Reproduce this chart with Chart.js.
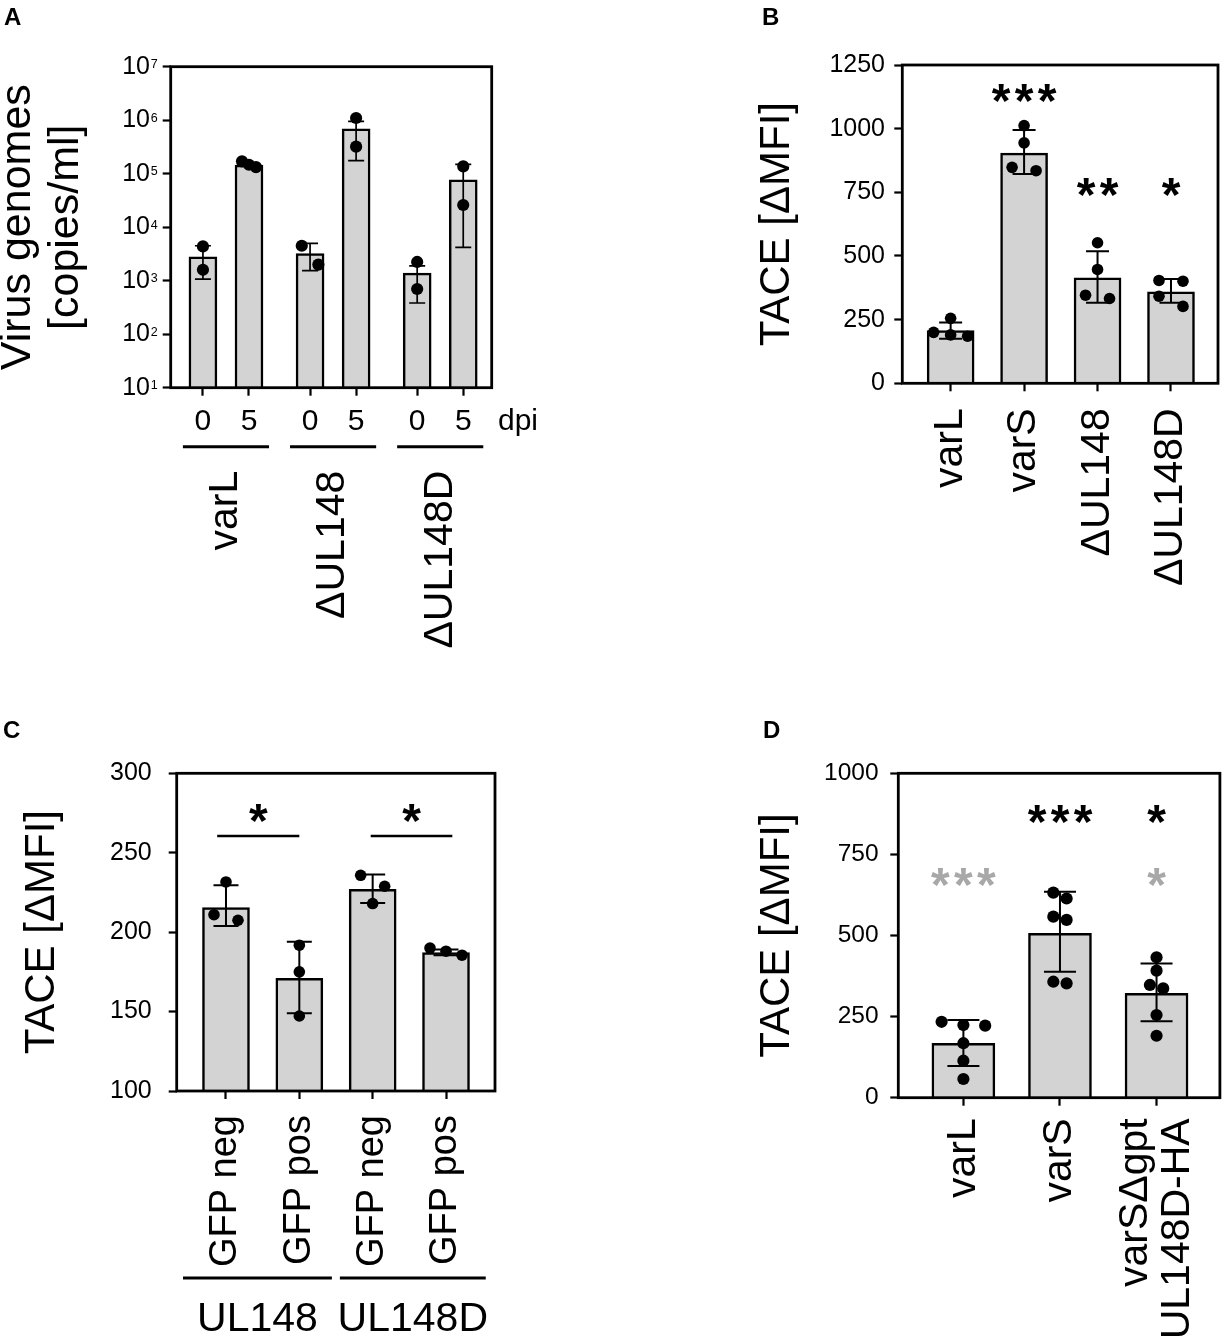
<!DOCTYPE html>
<html>
<head>
<meta charset="utf-8">
<title>Figure</title>
<script src="https://cdn.jsdelivr.net/npm/chart.js@4.4.1/dist/chart.umd.min.js"></script>
<style>
  html, body { margin:0; padding:0; background:#ffffff; }
  body { width:1226px; height:1343px; position:relative; overflow:hidden; }
  .panel { position:absolute; }
  .panel canvas { display:block; }
</style>
</head>
<body>
<div class="panel" style="left:0px;top:0px;width:560px;height:700px;"><canvas id="cA"></canvas></div>
<div class="panel" style="left:750px;top:0px;width:476px;height:680px;"><canvas id="cB"></canvas></div>
<div class="panel" style="left:0px;top:720px;width:520px;height:623px;"><canvas id="cC"></canvas></div>
<div class="panel" style="left:750px;top:720px;width:476px;height:623px;"><canvas id="cD"></canvas></div>
<script>
// ================= DATA =================
// Panel A – virus genomes (copies/ml), log scale
const groupsA = ['varL', 'ΔUL148', 'ΔUL148D'];
const dpiA = ['0', '5'];
const meanA = [2800, 145000, 3200, 690000, 1390, 77000];
const pointsA = [[4370, 1600], [170000, 147000, 133000], [4500, 2000], [1100000, 320000], [2240, 700], [137000, 26000]];
const errLowA = [1070, 138000, 1540, 175000, 383, 4200];
const errHighA = [4500, 152000, 5000, 950000, 1900, 150000];
const yTicksA = [1e1, 1e2, 1e3, 1e4, 1e5, 1e6, 1e7];

// Panel B – TACE [ΔMFI]
const labelsB = ['varL', 'varS', 'ΔUL148', 'ΔUL148D'];
const meanB = [207, 904, 414, 359];
const pointsB = [[255, 200, 190, 185], [1012, 944, 848, 835], [552, 447, 346, 333], [404, 401, 342, 302]];
const errLowB = [175, 822, 316, 316];
const errHighB = [239, 995, 519, 410];
const yTicksB = [0, 250, 500, 750, 1000, 1250];
const starsB = ['', '***', '**', '*'];

// Panel C – TACE [ΔMFI]
const labelsC = ['GFP neg', 'GFP pos', 'GFP neg', 'GFP pos'];
const groupsC = ['UL148', 'UL148D'];
const meanC = [215.5, 170.9, 226.9, 187.2];
const pointsC = [[231.6, 211, 207.5], [191.8, 175, 147.2], [235.8, 228.9, 218], [190, 188, 185.5]];
const errLowC = [203.8, 148.9, 218.4, 185.5];
const errHighC = [229.6, 193.9, 236.3, 189];
const yTicksC = [100, 150, 200, 250, 300];
const starsC = ['*', '*'];

// Panel D – TACE [ΔMFI]
const labelsD = ['varL', 'varS', ['varSΔgpt', 'UL148D-HA']];
const meanD = [167.6, 506.7, 321.8];
const pointsD = [[234, 224, 222, 168, 114, 57.6], [632, 614, 558, 548, 357.6, 352.6], [432.8, 391.7, 347.5, 337, 255, 191]];
const errLowD = [97.7, 388, 236];
const errHighD = [239.5, 635, 414];
const yTicksD = [0, 250, 500, 750, 1000];
const starsBlackD = ['', '***', '*'];
const starsGrayD = ['***', '', '*'];

// ================= LAYOUT / STYLE =================
const FONT = "'Liberation Sans', Arial, Helvetica, sans-serif";
Chart.defaults.font.family = FONT;
Chart.defaults.color = '#000';
const BAR_FILL = '#d3d3d3';
const GRAY_STAR = '#a8a8a8';
const FRAME_W = 2.8;
const BAR_BORDER = 2.5;
const GROUP_STEP_A = 2.326;          // spacing between group starts (bar units)
const UNDERLINE_PAD_A = 0.435;       // underline overhang beyond group bars
const LINE_OFF_D = 0.22;             // horizontal offset of 2-line label lines
const ANNOT = {
  starLevelB: [0, 1139, 769, 769],
  sigSpanC: [[-0.12, 1.0], [1.973, 3.086]], sigLevelC: 260.5, starLevelC: 275.2,
  underlineC: [[-0.586, 1.444], [1.553, 3.542]],
  starLevelBlackD: 874, starLevelGrayD: 679
};

const posA = [];
groupsA.forEach((g, gi) => dpiA.forEach((d, di) => posA.push(gi * GROUP_STEP_A + di)));
const groupCentersA = groupsA.map((g, gi) => (posA[gi * 2] + posA[gi * 2 + 1]) / 2);

// ================= HELPERS =================
function swarm(xs, points, toPx, clusterPx, amp2, amp3, pxPerUnit) {
  const out = [];
  points.forEach((vals, i) => {
    const sorted = vals.slice().sort((a, b) => b - a);
    const clusters = [];
    sorted.forEach((v, k) => {
      if (k > 0 && Math.abs(toPx(v) - toPx(sorted[k - 1])) < clusterPx) clusters[clusters.length - 1].push(v);
      else clusters.push([v]);
    });
    clusters.forEach(c => {
      const n = c.length;
      const amp = n === 1 ? 0 : (n === 2 ? amp2 : amp3);
      c.forEach((v, k) => {
        const off = n === 1 ? 0 : (k / (n - 1) * 2 - 1) * amp;
        out.push({ x: xs[i] + off / pxPerUnit, y: v });
      });
    });
  });
  return out;
}

function drawStars(ctx, text, cx, cy, size, pitch, color) {
  ctx.save();
  ctx.font = 'bold ' + size + 'px ' + FONT;
  ctx.fillStyle = color;
  ctx.textAlign = 'center';
  ctx.textBaseline = 'alphabetic';
  const m = ctx.measureText('*');
  const off = (m.actualBoundingBoxAscent - m.actualBoundingBoxDescent) / 2;
  const n = text.length;
  for (let k = 0; k < n; k++) ctx.fillText('*', cx + (k - (n - 1) / 2) * pitch, cy + off);
  ctx.restore();
}

function buildXTicks(xs, labels, lineOff) {
  const t = [];
  xs.forEach((x, i) => {
    const lab = labels[i];
    if (Array.isArray(lab)) {
      const n = lab.length;
      lab.forEach((line, k) => t.push({ v: x + (k - (n - 1) / 2) * 2 * lineOff, label: line, mark: false }));
      t.push({ v: x, label: '', mark: true });
    } else {
      t.push({ v: x, label: lab, mark: true });
    }
  });
  return t.sort((a, b) => a.v - b.v);
}

function extras(p) {
  return {
    id: 'extras_' + p.canvas,
    afterDatasetDraw(chart, args) {
      if (args.index !== 0) return;
      const ctx = chart.ctx, xS = chart.scales.x, yS = chart.scales.y;
      ctx.save();
      ctx.strokeStyle = '#000';
      ctx.lineWidth = p.errLW;
      p.xs.forEach((xv, i) => {
        const x = xS.getPixelForValue(xv);
        const y1 = yS.getPixelForValue(p.errHigh[i]);
        const y2 = yS.getPixelForValue(p.errLow[i]);
        ctx.beginPath();
        ctx.moveTo(x, y1); ctx.lineTo(x, y2);
        ctx.moveTo(x - p.capW / 2, y1); ctx.lineTo(x + p.capW / 2, y1);
        ctx.moveTo(x - p.capW / 2, y2); ctx.lineTo(x + p.capW / 2, y2);
        ctx.stroke();
      });
      ctx.restore();
    },
    afterDraw(chart) {
      const ctx = chart.ctx, a = chart.chartArea;
      ctx.save();
      ctx.strokeStyle = '#000';
      ctx.lineWidth = FRAME_W;
      ctx.strokeRect(a.left, a.top, a.right - a.left, a.bottom - a.top);
      ctx.font = 'bold 24px ' + FONT;
      ctx.fillStyle = '#000';
      ctx.textAlign = 'left';
      ctx.textBaseline = 'alphabetic';
      ctx.fillText(p.letter.text, p.letter.x, p.letter.y);
      ctx.restore();
      if (p.extra) { ctx.save(); p.extra(chart, ctx); ctx.restore(); }
    }
  };
}

function makePanel(p) {
  const box = p.box, a = p.area;
  const plotW = a.right - a.left, plotH = a.bottom - a.top;
  const pxPerUnit = plotW / (p.xMax - p.xMin);
  const isLog = p.yType === 'logarithmic';
  const toPx = isLog
    ? v => Math.log10(v) * plotH / (Math.log10(p.yMax) - Math.log10(p.yMin))
    : v => v * plotH / (p.yMax - p.yMin);
  const dots = swarm(p.xs, p.points, toPx, p.cluster, p.amp2, p.amp3, pxPerUnit);
  const yAxisW = a.left - box.left;
  const padTop = a.top - box.top;
  const padRight = box.left + box.w - a.right;
  const x2Top = p.x2 ? p.x2.top : box.top + box.h;
  const xAxisH = x2Top - a.bottom;
  const x2H = box.top + box.h - x2Top;
  const xt = p.xTicks;

  const scales = {
    x: {
      type: 'linear', position: 'bottom', min: p.xMin, max: p.xMax, offset: false, weight: 0,
      grid: {
        display: true, drawOnChartArea: false, drawTicks: true, offset: false, tickLength: 8, tickWidth: 2.2,
        tickColor: c => (c.tick && xt.find(t => Math.abs(t.v - c.tick.value) < 1e-9 && t.mark)) ? '#000' : 'rgba(0,0,0,0)'
      },
      border: { display: false },
      afterBuildTicks: s => { s.ticks = xt.map(t => ({ value: t.v })); },
      ticks: {
        autoSkip: false, minRotation: p.xRot, maxRotation: p.xRot, padding: p.xTickPad,
        font: { size: p.xTickSize, lineHeight: 1.2 }, color: '#000',
        callback: (v, i) => (xt[i] ? xt[i].label : '')
      },
      afterFit: s => { s.height = xAxisH; s.paddingLeft = 0; s.paddingRight = 0; }
    },
    y: {
      type: p.yType, position: 'left', min: p.yMin, max: p.yMax,
      grid: { display: true, drawOnChartArea: false, drawTicks: true, tickLength: 8, tickWidth: 2.2, tickColor: '#000' },
      border: { display: false },
      afterBuildTicks: s => { s.ticks = p.yTicks.map(v => ({ value: v })); },
      ticks: {
        autoSkip: false, padding: p.yTickPad, font: { size: p.yTickSize }, color: '#000',
        callback: p.yTickLabel || (v => String(v))
      },
      title: {
        display: true, text: p.yTitle, color: '#000',
        font: { size: p.yTitleSize, lineHeight: p.yTitleLH },
        padding: { top: p.yTitlePad, bottom: 0 }
      },
      afterFit: s => { s.width = yAxisW; s.paddingTop = 0; s.paddingBottom = 0; }
    }
  };
  if (p.x2) {
    scales.x2 = {
      type: 'linear', position: 'bottom', axis: 'x', min: p.xMin, max: p.xMax, offset: false, weight: 1,
      grid: { display: false }, border: { display: false },
      afterBuildTicks: s => { s.ticks = p.x2.ticks.map(v => ({ value: v })); },
      ticks: {
        autoSkip: false, minRotation: p.x2.rot, maxRotation: p.x2.rot, padding: p.x2.pad,
        font: { size: p.x2.size, lineHeight: 1.2 }, color: '#000',
        callback: (v, i) => p.x2.labels[i]
      },
      afterFit: s => { s.height = x2H; s.paddingLeft = 0; s.paddingRight = 0; }
    };
  }

  const barDs = {
    type: 'bar', data: p.xs.map((x, i) => ({ x: x, y: p.means[i] })),
    backgroundColor: BAR_FILL, borderColor: '#000', borderWidth: BAR_BORDER, borderSkipped: 'start',
    barThickness: p.barWidth, order: 2
  };
  if (isLog) barDs.base = p.yMin;

  new Chart(document.getElementById(p.canvas), {
    type: 'bar',
    data: {
      datasets: [
        barDs,
        { type: 'scatter', data: dots, backgroundColor: '#000', borderColor: '#000', borderWidth: 0,
          pointRadius: p.dotR, pointHoverRadius: p.dotR, order: 1 }
      ]
    },
    options: {
      responsive: true, maintainAspectRatio: false, animation: false, events: [],
      layout: { padding: { top: padTop, right: padRight, left: 0, bottom: 0 } },
      plugins: { legend: { display: false }, tooltip: { enabled: false }, title: { display: false } },
      scales: scales
    },
    plugins: [extras(p)]
  });
}

// ================= PANEL A =================
makePanel({
  canvas: 'cA', box: { left: 0, top: 0, w: 560, h: 700 },
  area: { left: 170.7, top: 66.7, right: 491.7, bottom: 387.7 },
  xs: posA, xMin: -0.70, xMax: 6.27,
  yType: 'logarithmic', yMin: yTicksA[0], yMax: yTicksA[yTicksA.length - 1], yTicks: yTicksA,
  yTickLabel: () => '10',
  means: meanA, points: pointsA, errLow: errLowA, errHigh: errHighA,
  barWidth: 28, dotR: 6.1, capW: 16, errLW: 1.7, cluster: 20, amp2: 8.3, amp3: 7,
  yTitle: ['Virus genomes', '[copies/ml]'], yTitleSize: 43, yTitleLH: 1.116, yTitlePad: -6,
  yTickSize: 25, yTickPad: 12.7,
  xTicks: posA.map((v, i) => ({ v: v, label: dpiA[i % 2], mark: true })),
  xRot: 0, xTickSize: 30, xTickPad: 8.3,
  x2: { top: 447.7, ticks: groupCentersA, labels: groupsA, rot: 90, size: 41, pad: 15 },
  letter: { text: 'A', x: 4, y: 25 },
  extra: (chart, ctx) => {
    const xS = chart.scales.x, yS = chart.scales.y;
    ctx.fillStyle = '#000';
    ctx.font = '12.5px ' + FONT;
    ctx.textAlign = 'left';
    ctx.textBaseline = 'alphabetic';
    const xr = yS.right - 8 - 12.7 + 0.7;
    yTicksA.forEach(v => ctx.fillText(String(Math.round(Math.log10(v))), xr, yS.getPixelForValue(v) + 1.6));
    ctx.font = '30px ' + FONT;
    ctx.textBaseline = 'middle';
    ctx.fillText('dpi', chart.chartArea.right + 6.3, xS.top + 8 + 8.3 + 18);
    ctx.strokeStyle = '#000';
    ctx.lineWidth = 3;
    groupsA.forEach((g, gi) => {
      const p0 = posA[gi * 2], p1 = posA[gi * 2 + 1];
      const y = xS.bottom - 1;
      ctx.beginPath();
      ctx.moveTo(xS.getPixelForValue(p0 - UNDERLINE_PAD_A), y);
      ctx.lineTo(xS.getPixelForValue(p1 + UNDERLINE_PAD_A), y);
      ctx.stroke();
    });
  }
});

// ================= PANEL B =================
const xsB = labelsB.map((l, i) => i);
makePanel({
  canvas: 'cB', box: { left: 750, top: 0, w: 476, h: 680 },
  area: { left: 902.3, top: 65, right: 1218, bottom: 383.3 },
  xs: xsB, xMin: -0.658, xMax: 3.64,
  yType: 'linear', yMin: yTicksB[0], yMax: yTicksB[yTicksB.length - 1], yTicks: yTicksB,
  means: meanB, points: pointsB, errLow: errLowB, errHigh: errHighB,
  barWidth: 47, dotR: 5.8, capW: 23, errLW: 2, cluster: 12, amp2: 12, amp3: 17,
  yTitle: 'TACE [ΔMFI]', yTitleSize: 42, yTitleLH: 1.12, yTitlePad: 3.5,
  yTickSize: 25, yTickPad: 9.3,
  xTicks: labelsB.map((l, i) => ({ v: xsB[i], label: l, mark: true })),
  xRot: 90, xTickSize: 41, xTickPad: 17,
  letter: { text: 'B', x: 12, y: 25 },
  extra: (chart, ctx) => {
    const xS = chart.scales.x, yS = chart.scales.y;
    starsB.forEach((s, i) => {
      if (s) drawStars(ctx, s, xS.getPixelForValue(xsB[i]), yS.getPixelForValue(ANNOT.starLevelB[i]), 48, 23, '#000');
    });
  }
});

// ================= PANEL C =================
const xsC = labelsC.map((l, i) => i);
makePanel({
  canvas: 'cC', box: { left: 0, top: 720, w: 520, h: 623 },
  area: { left: 176.7, top: 773.3, right: 495, bottom: 1091 },
  xs: xsC, xMin: -0.672, xMax: 3.668,
  yType: 'linear', yMin: yTicksC[0], yMax: yTicksC[yTicksC.length - 1], yTicks: yTicksC,
  means: meanC, points: pointsC, errLow: errLowC, errHigh: errHighC,
  barWidth: 47, dotR: 5.8, capW: 25, errLW: 2, cluster: 12, amp2: 12, amp3: 16,
  yTitle: 'TACE [ΔMFI]', yTitleSize: 42, yTitleLH: 1.12, yTitlePad: 18.7,
  yTickSize: 25, yTickPad: 17,
  xTicks: labelsC.map((l, i) => ({ v: xsC[i], label: l, mark: true })),
  xRot: 90, xTickSize: 38, xTickPad: 16,
  x2: { top: 1278, ticks: ANNOT.underlineC.map(s => (s[0] + s[1]) / 2), labels: groupsC, rot: 0, size: 41, pad: 9.1 },
  letter: { text: 'C', x: 3, y: 18 },
  extra: (chart, ctx) => {
    const xS = chart.scales.x, yS = chart.scales.y;
    ctx.strokeStyle = '#000';
    ctx.lineWidth = 3;
    ANNOT.underlineC.forEach(s => {
      ctx.beginPath();
      ctx.moveTo(xS.getPixelForValue(s[0]), xS.bottom);
      ctx.lineTo(xS.getPixelForValue(s[1]), xS.bottom);
      ctx.stroke();
    });
    ctx.lineWidth = 2.5;
    ANNOT.sigSpanC.forEach((s, i) => {
      const y = yS.getPixelForValue(ANNOT.sigLevelC);
      ctx.beginPath();
      ctx.moveTo(xS.getPixelForValue(s[0]), y);
      ctx.lineTo(xS.getPixelForValue(s[1]), y);
      ctx.stroke();
      drawStars(ctx, starsC[i], xS.getPixelForValue((s[0] + s[1]) / 2), yS.getPixelForValue(ANNOT.starLevelC), 48, 23, '#000');
    });
  }
});

// ================= PANEL D =================
const xsD = labelsD.map((l, i) => i);
makePanel({
  canvas: 'cD', box: { left: 750, top: 720, w: 476, h: 623 },
  area: { left: 898.3, top: 773.3, right: 1223, bottom: 1097.7 },
  xs: xsD, xMin: -0.674, xMax: 2.656,
  yType: 'linear', yMin: yTicksD[0], yMax: yTicksD[yTicksD.length - 1], yTicks: yTicksD,
  means: meanD, points: pointsD, errLow: errLowD, errHigh: errHighD,
  barWidth: 63, dotR: 6.1, capW: 32, errLW: 2, cluster: 12, amp2: 6.7, amp3: 22,
  yTitle: 'TACE [ΔMFI]', yTitleSize: 42, yTitleLH: 1.12, yTitlePad: 3.5,
  yTickSize: 24.5, yTickPad: 11.7,
  xTicks: buildXTicks(xsD, labelsD, LINE_OFF_D),
  xRot: 90, xTickSize: 41, xTickPad: 12.6,
  letter: { text: 'D', x: 13, y: 18 },
  extra: (chart, ctx) => {
    const xS = chart.scales.x, yS = chart.scales.y;
    starsBlackD.forEach((s, i) => {
      if (s) drawStars(ctx, s, xS.getPixelForValue(xsD[i]), yS.getPixelForValue(ANNOT.starLevelBlackD), 48, 23, '#000');
    });
    starsGrayD.forEach((s, i) => {
      if (s) drawStars(ctx, s, xS.getPixelForValue(xsD[i]), yS.getPixelForValue(ANNOT.starLevelGrayD), 48, 23, GRAY_STAR);
    });
  }
});
</script>
</body>
</html>
